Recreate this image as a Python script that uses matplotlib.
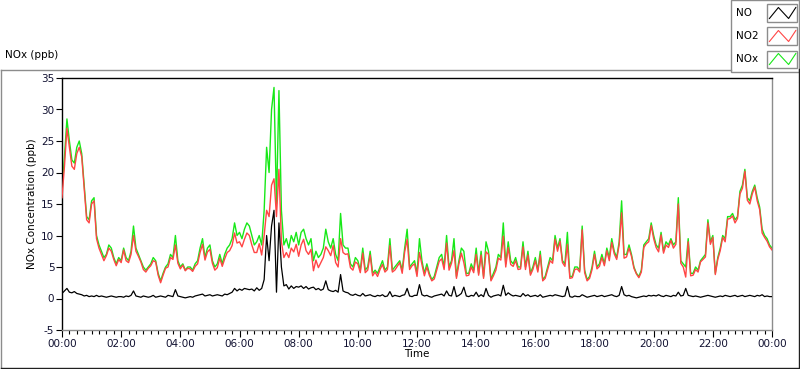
import numpy as np
import matplotlib.pyplot as plt
from matplotlib.lines import Line2D
from matplotlib.patches import Rectangle

plt.rcParams['font.family'] = ['DejaVu Sans']
plt.rcParams['font.size'] = 7.5

# 5-minute readings, 00:00 .. 24:00 (one row per hour)
nox = [
    17.0, 22.5, 28.5, 25.0, 22.0, 21.5, 24.0, 25.0, 23.0, 18.0, 13.0, 12.5,
    15.5, 16.0, 10.0, 8.5, 7.5, 6.5, 7.0, 8.5, 8.0, 6.5, 5.5, 6.5,
    6.0, 8.0, 6.5, 6.0, 7.5, 11.5, 8.0, 7.0, 6.0, 5.0, 4.5, 5.0,
    5.5, 6.5, 6.0, 4.0, 2.8, 4.0, 5.0, 5.5, 7.0, 6.5, 10.0, 6.0,
    5.0, 5.5, 4.5, 5.0, 5.0, 4.5, 5.5, 6.0, 8.0, 9.5, 6.5, 8.0,
    8.5, 6.0, 5.0, 5.5, 7.0, 5.5, 7.0, 8.0, 8.5, 9.5, 12.0, 10.0,
    10.5, 9.5, 11.0, 12.0, 11.5, 10.0, 8.5, 9.0, 10.0, 8.5, 14.0, 24.0,
    20.0, 30.0, 33.5, 15.0, 33.0, 14.0, 8.5, 9.5, 8.0, 10.0, 9.0, 10.5,
    8.5, 10.5, 11.0, 9.5, 8.5, 9.5, 6.0, 7.5, 6.5, 7.0, 8.0, 11.0,
    9.0, 8.0, 9.5, 7.0, 6.0, 13.5, 8.5, 8.0, 8.0, 5.5, 5.0, 6.5,
    6.0, 4.5, 8.0, 4.5, 5.0, 7.5, 4.0, 4.5, 4.0, 5.0, 6.0, 4.5,
    5.0, 9.5, 4.5, 5.0, 5.5, 6.0, 4.5, 8.0, 11.0, 5.0, 5.5, 6.0,
    4.0, 9.5, 6.0, 4.0, 5.5, 4.0, 3.0, 3.5, 5.0, 6.5, 7.0, 5.0,
    10.0, 5.0, 6.0, 9.5, 3.5, 6.0, 8.0, 7.5, 4.0, 4.0, 5.5, 4.5,
    8.0, 4.0, 7.5, 3.5, 9.0, 7.5, 3.0, 4.0, 5.0, 7.0, 6.5, 12.0,
    5.5, 9.0, 6.0, 5.5, 6.5, 5.0, 5.0, 9.0, 5.0, 7.5, 4.0, 5.0,
    6.5, 4.5, 7.5, 3.0, 3.5, 5.0, 6.5, 6.0, 10.0, 8.0, 9.5, 6.0,
    5.5, 10.5, 3.5, 3.5, 5.0, 5.0, 4.5, 11.5, 4.5, 3.0, 3.5, 5.0,
    7.5, 5.0, 5.5, 7.0, 5.5, 8.0, 6.5, 9.5, 7.5, 6.5, 9.0, 15.5,
    7.0, 7.0, 8.5, 7.0, 5.0, 4.0, 3.5, 4.5, 8.5, 9.0, 9.5, 12.0,
    10.0, 8.5, 8.0, 10.5, 7.5, 9.0, 8.5, 9.5, 8.5, 9.0, 16.0, 6.0,
    5.5, 5.0, 9.5, 4.0, 4.0, 5.0, 4.5, 6.0, 6.5, 7.0, 12.5, 9.0,
    10.0, 4.0, 6.5, 8.0, 10.0, 9.5, 13.0, 13.0, 13.5, 12.5, 13.0, 17.0,
    18.0, 20.5, 16.0, 15.5, 17.0, 18.0, 16.0, 14.5, 11.0, 10.0, 9.5, 8.5,
    8.0,
]

no2 = [
    16.0, 21.0, 27.0, 24.0, 21.0, 20.5, 23.0, 24.0, 22.5, 17.5, 12.5, 12.0,
    15.0, 15.5, 9.5, 8.0, 7.0, 6.0, 6.8, 8.0, 7.5, 6.2, 5.2, 6.2,
    5.7, 7.7, 6.0, 5.7, 7.0, 10.0, 7.5, 6.7, 5.8, 4.6, 4.2, 4.8,
    5.2, 6.0, 5.8, 3.7, 2.5, 3.7, 4.8, 5.0, 6.5, 6.2, 8.5, 5.6,
    4.7, 5.3, 4.4, 4.8, 4.7, 4.3, 5.1, 5.5, 7.3, 8.6, 6.1, 7.4,
    7.8, 5.6, 4.5, 4.9, 6.4, 5.1, 6.3, 7.3, 7.6, 8.4, 10.4, 8.8,
    9.0, 8.2, 9.4, 10.4, 10.0, 8.5, 7.3, 7.3, 8.7, 6.9, 10.0, 14.0,
    13.0, 18.0, 19.0, 13.0, 20.5, 9.0, 6.5, 7.3, 6.5, 8.0, 7.4, 8.6,
    6.7, 8.5, 9.4, 7.6, 7.0, 7.8, 4.4, 6.1, 4.9, 5.7, 6.5, 8.2,
    7.6, 6.8, 8.4, 5.7, 5.0, 9.5, 7.3, 7.0, 7.1, 4.9, 4.5, 5.8,
    5.5, 4.1, 7.2, 4.1, 4.5, 6.9, 3.6, 4.2, 3.5, 4.6, 5.4, 4.2,
    4.6, 8.4, 4.2, 4.5, 5.1, 5.7, 4.0, 7.4, 9.4, 4.6, 5.2, 5.5,
    3.5, 7.3, 5.4, 3.6, 5.0, 3.7, 2.8, 3.1, 4.5, 5.9, 6.3, 4.6,
    8.8, 4.5, 5.6, 7.6, 3.2, 5.5, 7.2, 5.7, 3.6, 3.7, 5.0, 4.1,
    7.0, 3.7, 6.9, 3.2, 7.4, 7.0, 2.8, 3.6, 4.5, 6.4, 6.1, 9.9,
    5.0, 8.1, 5.4, 5.1, 6.0, 4.6, 4.7, 8.2, 4.6, 6.9, 3.7, 4.6,
    6.0, 4.2, 6.9, 2.8, 3.2, 4.6, 6.0, 5.6, 9.4, 7.5, 9.1, 5.7,
    5.1, 8.6, 3.2, 3.3, 4.6, 4.7, 4.2, 10.9, 4.1, 2.8, 3.2, 4.6,
    7.0, 4.7, 5.1, 6.5, 5.2, 7.6, 6.0, 8.9, 7.1, 6.2, 8.5, 13.6,
    6.4, 6.6, 8.0, 6.7, 4.8, 3.9, 3.3, 4.2, 8.1, 8.7, 9.0, 11.6,
    9.5, 8.1, 7.4, 10.1, 7.2, 8.5, 8.1, 9.2, 8.0, 8.6, 15.0, 5.6,
    5.0, 3.4, 9.0, 3.6, 3.7, 4.6, 4.2, 5.8, 6.2, 6.6, 12.0, 8.6,
    9.7, 3.8, 6.2, 7.6, 9.7, 9.0, 12.6, 12.7, 13.1, 12.0, 12.7, 16.6,
    17.5, 20.2, 15.6, 15.0, 16.6, 17.7, 15.5, 14.1, 10.4, 9.7, 9.1, 8.2,
    7.7,
]

no = [
    0.8, 1.2, 1.6, 1.0, 0.9, 1.1, 0.8, 0.7, 0.6, 0.4, 0.5, 0.3,
    0.4, 0.3, 0.5, 0.3, 0.4, 0.3, 0.2, 0.3, 0.4, 0.3, 0.2, 0.3,
    0.3, 0.2, 0.4, 0.3, 0.5, 1.2, 0.4, 0.3, 0.2, 0.4, 0.3, 0.2,
    0.3, 0.5, 0.2, 0.3, 0.4, 0.3, 0.2, 0.5, 0.4, 0.3, 1.4, 0.4,
    0.3, 0.2, 0.1, 0.2, 0.3, 0.2, 0.4, 0.5, 0.6, 0.7, 0.4, 0.5,
    0.6, 0.4, 0.5, 0.6, 0.5, 0.4, 0.7, 0.6, 0.8, 1.0, 1.6, 1.2,
    1.5, 1.3, 1.6, 1.5, 1.4, 1.5, 1.2, 1.7, 1.3, 1.6, 3.0, 10.0,
    6.0, 11.5, 14.0, 1.0, 12.0, 5.0, 2.0, 2.2, 1.5, 2.0, 1.6, 1.9,
    1.8, 2.0, 1.6, 1.9, 1.5, 1.7, 1.8, 1.4, 1.6, 1.3, 1.5, 2.8,
    1.4, 1.2, 1.1, 1.3, 1.0, 3.8, 1.2, 1.0, 0.9, 0.6, 0.5, 0.7,
    0.5, 0.4, 0.8, 0.4, 0.5, 0.6, 0.4, 0.3, 0.5, 0.4, 0.6, 0.3,
    0.4, 1.1, 0.3, 0.5, 0.4, 0.3, 0.5, 0.6, 1.6, 0.4, 0.3, 0.5,
    0.5, 2.2, 0.6, 0.4, 0.5, 0.3, 0.2, 0.4, 0.5, 0.6, 0.7, 0.4,
    1.2, 0.5, 0.4, 1.9, 0.3, 0.5, 0.8, 1.8, 0.4, 0.3, 0.5, 0.4,
    1.0, 0.3, 0.6, 0.3, 1.6, 0.5, 0.2, 0.4, 0.5, 0.6, 0.4, 2.1,
    0.5, 0.9, 0.6, 0.4, 0.5, 0.4, 0.3, 0.8, 0.4, 0.6, 0.3, 0.4,
    0.5, 0.3, 0.6, 0.2, 0.3, 0.4, 0.5, 0.4, 0.6, 0.5, 0.4, 0.3,
    0.4, 1.9, 0.3, 0.2, 0.4, 0.3, 0.3, 0.6, 0.4, 0.2, 0.3, 0.4,
    0.5, 0.3, 0.4, 0.5, 0.3, 0.4, 0.5, 0.6, 0.4, 0.3, 0.5, 1.9,
    0.6, 0.4, 0.5, 0.3, 0.2, 0.1, 0.2, 0.3, 0.4, 0.3, 0.5, 0.4,
    0.5, 0.4, 0.6, 0.4, 0.3, 0.5, 0.4, 0.3, 0.5, 0.4, 1.0, 0.4,
    0.5, 1.6, 0.5, 0.4, 0.3, 0.4, 0.3, 0.2, 0.3, 0.4, 0.5, 0.4,
    0.3, 0.2, 0.3, 0.4, 0.3, 0.5, 0.4, 0.3, 0.4, 0.5, 0.3, 0.4,
    0.5, 0.3, 0.4, 0.5, 0.4, 0.3, 0.5, 0.4, 0.6, 0.3, 0.4, 0.3,
    0.3,
]

hour_ticks = list(range(0, 25, 2))
hour_labels = ["00:00", "02:00", "04:00", "06:00", "08:00", "10:00", "12:00",
               "14:00", "16:00", "18:00", "20:00", "22:00", "00:00"]
y_ticks = [-5, 0, 5, 10, 15, 20, 25, 30, 35]

series_names = ["NO", "NO2", "NOx"]
series_colors = ["#000000", "#ff4545", "#18e818"]

t = np.arange(len(nox)) * 5 / 60.0  # hours

W, H = 800, 369
fig = plt.figure(figsize=(W / 100, H / 100), dpi=100)


def fx(x):
    return x / W


def fy(y):
    return 1 - y / H


ax = fig.add_axes([fx(62), fy(330), fx(772) - fx(62), fy(78) - fy(330)])
ax.plot(t, nox, color=series_colors[2], lw=1.0, zorder=2)
ax.plot(t, no2, color=series_colors[1], lw=1.0, zorder=3)
ax.plot(t, no, color=series_colors[0], lw=0.9, zorder=4)

ax.set_xlim(0, 24)
ax.set_ylim(-5, 35)
ax.set_xticks(hour_ticks)
ax.set_xticklabels(hour_labels)
ax.set_xticks(np.arange(0, 24.01, 0.25), minor=True)
ax.set_yticks(y_ticks)
ax.set_yticklabels([str(v) for v in y_ticks])
ax.tick_params(axis='both', which='major', direction='out', length=4,
               width=0.8, pad=1.5, colors='black', labelcolor='#101030')
ax.tick_params(axis='x', which='major', length=5)
ax.tick_params(axis='x', which='minor', direction='out', length=3, width=0.8)
ax.set_xlabel("Time", labelpad=0)
ax.set_ylabel("NOx Concentration (ppb)", labelpad=3)

for side in ['top', 'left']:
    ax.spines[side].set_color('black')
    ax.spines[side].set_linewidth(1.0)
for side in ['bottom', 'right']:
    ax.spines[side].set_color('#8c8c8c')
    ax.spines[side].set_linewidth(1.0)

# outer panel frame
fig.add_artist(Line2D([fx(1), fx(731)], [fy(69.5), fy(69.5)], color='#8c8c8c', lw=1))
fig.add_artist(Line2D([fx(1), fx(1)], [fy(69.5), fy(367.5)], color='#8c8c8c', lw=1))
fig.add_artist(Line2D([fx(1), fx(799)], [fy(367.5), fy(367.5)], color='#202020', lw=1))
fig.add_artist(Line2D([fx(798.5), fx(798.5)], [fy(69), fy(367.5)], color='#202020', lw=1))

fig.text(fx(5), fy(58), "NOx (ppb)", ha='left', va='baseline', fontsize=7.5)

# legend panel at top right
fig.add_artist(Rectangle((fx(731), fy(71.5)), fx(68), fy(0) - fy(71.5),
                         facecolor='white', edgecolor='#8c8c8c', lw=1))
zig = [0, 1, 0, 1]
zx = [0.08, 0.38, 0.72, 0.96]
for i, (name, col) in enumerate(zip(series_names, series_colors)):
    top = 4.5 + i * 23
    bot = top + 17
    fig.text(fx(736), fy((top + bot) / 2), name, ha='left', va='center', fontsize=7.5)
    fig.add_artist(Rectangle((fx(767), fy(bot)), fx(30), fy(top) - fy(bot),
                             facecolor='white', edgecolor='#8c8c8c', lw=1))
    xs = [fx(767 + 30 * v) for v in zx]
    ys = [fy(bot - 3 - 11 * v) for v in zig]
    fig.add_artist(Line2D(xs, ys, color=col, lw=0.8))

fig.savefig("out.png", dpi=100, facecolor='white')
